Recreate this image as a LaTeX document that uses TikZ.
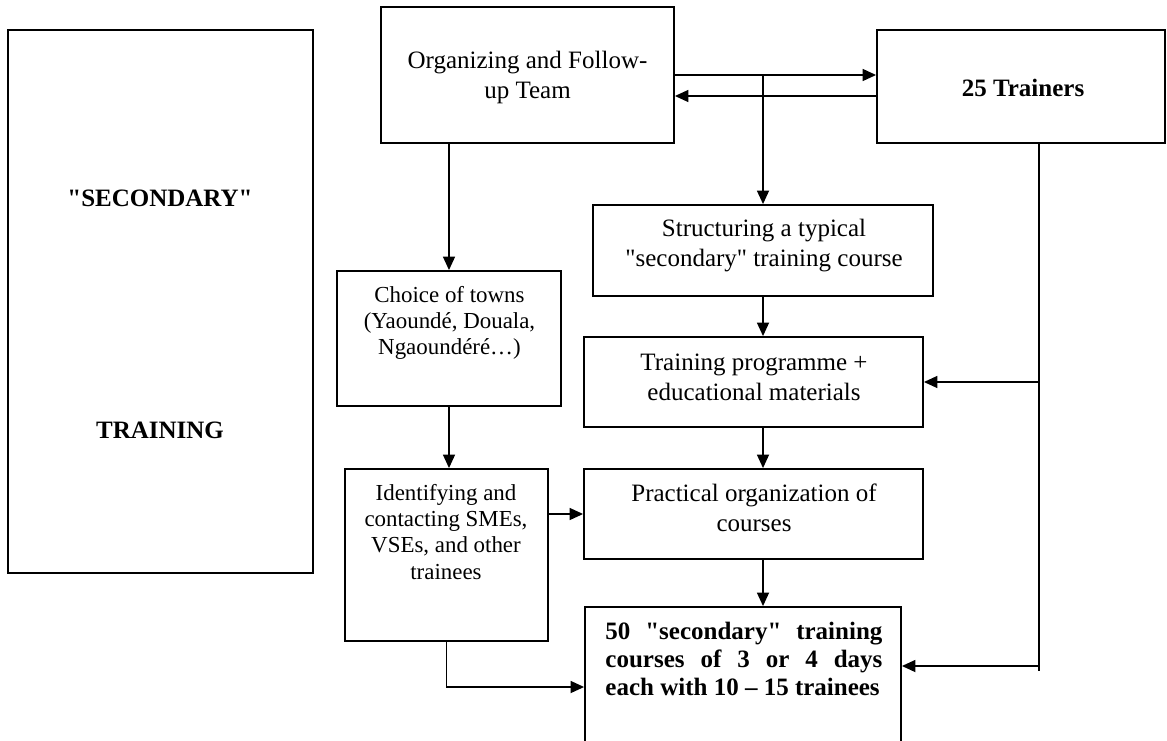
\documentclass[tikz,border=0pt]{standalone}
\usepackage{fontspec}
\setmainfont{Liberation Serif}[Ligatures=TeXOff]
\usetikzlibrary{arrows.meta}
\def\pxl{0.48pt}
\tikzset{
	box/.style={draw,line width=0.9pt,inner sep=0pt},
	boxw/.style={minimum width=#1*\pxl},
	boxh/.style={minimum height=#1*\pxl},
	txt/.style={align=center,inner sep=0pt,font=\fontsize{12}{14.4}\selectfont},
	txts/.style={align=center,inner sep=0pt,font=\fontsize{11}{12.5}\selectfont},
	txtb/.style={inner sep=0pt,font=\fontsize{12}{13.4}\selectfont\bfseries},
	arr/.style={line width=0.7pt,-{Triangle[length=6.5pt,width=5.8pt]}},
	ln/.style={line width=0.7pt}
}
\begin{document}
\begin{tikzpicture}[x=\pxl,y=-\pxl,line join=miter]
	\useasboundingbox (0,0) rectangle (1167,740);
	\clip (0,0) rectangle (1167,740);
	% cac khung
	\node[box,boxw=305,boxh=543] (sec) at (160.5,301.5) {};
	\node[box,boxw=293,boxh=136] (team) at (527.5,75) {};
	\node[box,boxw=288,boxh=113] (trainers) at (1021,86.5) {};
	\node[box,boxw=340,boxh=91] (struct) at (763,250.5) {};
	\node[box,boxw=339,boxh=90] (prog) at (753.5,382) {};
	\node[box,boxw=224,boxh=135] (choice) at (449,338.5) {};
	\node[box,boxw=203,boxh=172] (ident) at (446.5,555) {};
	\node[box,boxw=339,boxh=90] (pract) at (753.5,514) {};
	\node[box,boxw=316,boxh=160] (courses) at (743,687) {};
	% chu trong khung
	\node[txtb] (sec-a) at (160,198) {"SECONDARY"};
	\node[txtb] (sec-b) at (160,430) {TRAINING};
	\node[txt] (team-t) at (527.5,77) {Organizing and Follow-\\up Team};
	\node[txtb] (trainers-t) at (1023,88) {25 Trainers};
	\node[txt] (struct-t) at (764,246) {Structuring a typical\\"secondary" training course};
	\node[txt] (prog-t) at (754,377) {Training programme +\\educational materials};
	\node[txts] (choice-t) at (449.5,323) {Choice of towns\\(Yaoundé, Douala,\\Ngaoundéré…)};
	\node[txts] (ident-t) at (446,532) {Identifying and\\contacting SMEs,\\VSEs, and other\\trainees};
	\node[txt] (pract-t) at (754,508) {Practical organization of\\courses};
	\node[txtb,text width=277*\pxl,align=justify,anchor=north west] (courses-t) at (605,622)
		{50 "secondary" training\linebreak courses of 3 or 4 days\linebreak each with 10 – 15 trainees};
	% mui ten
	\draw[arr] (team.east) -- (team.east -| trainers.west);
	\draw[arr] (trainers.west |- 0,96) -- (team.east |- 0,96);
	\draw[arr] (struct.north |- team.east) -- (struct.north);
	\draw[arr] (team.south -| choice.north) -- (choice.north);
	\draw[arr] (struct.south) -- (struct.south |- prog.north);
	\draw[arr] (prog.south -| struct.south) -- (pract.north -| struct.south);
	\draw[arr] (pract.south -| struct.south) -- (courses.north -| struct.south);
	\draw[arr] (choice.south) -- (choice.south |- ident.north);
	\draw[arr] (pract.west -| ident.east) -- (pract.west);
	\draw[arr] (ident.south) |- (courses.west);
	% duong tu trainers
	\coordinate (tb) at (1039,143);
	\coordinate (te) at (1039,671);
	\draw[ln] (tb) -- (te);
	\draw[arr] (tb |- prog.east) -- (prog.east);
	\draw[arr] (te |- 0,666) -- (courses.east |- 0,666);
\end{tikzpicture}
\end{document}
